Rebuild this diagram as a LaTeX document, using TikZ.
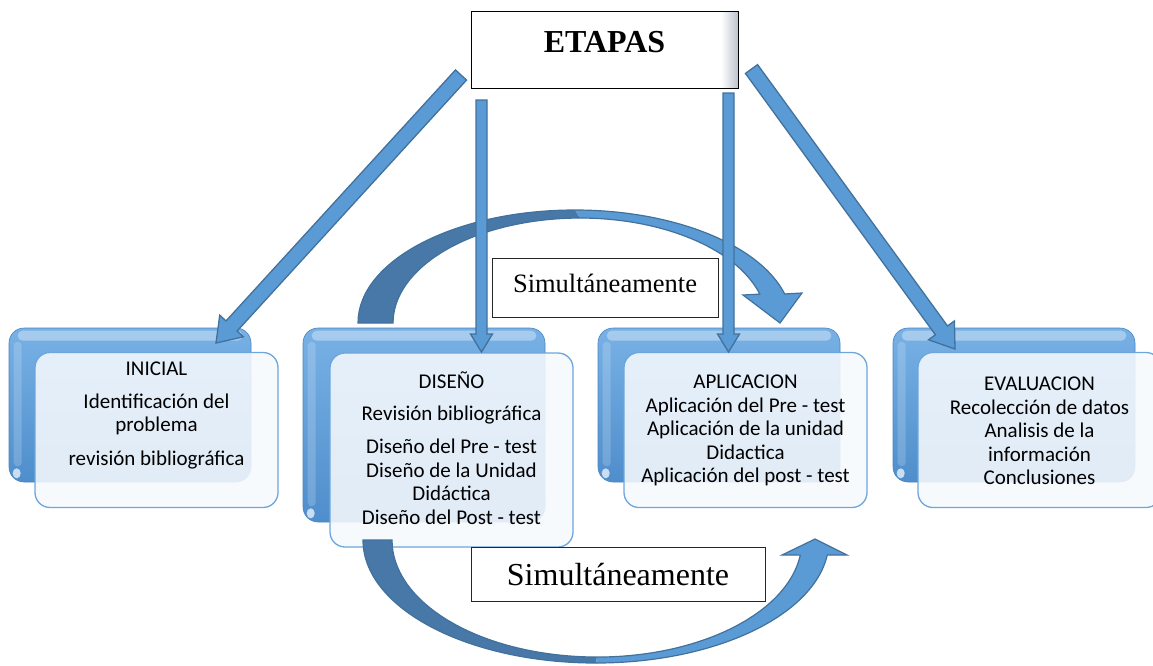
\documentclass[tikz,border=0pt]{standalone}
\usepackage{fontspec}
\setmainfont{Liberation Serif}
\newfontfamily\calibrifont{Carlito}
\usetikzlibrary{calc}

\definecolor{arrowfill}{HTML}{5B9BD5}
\definecolor{arrowline}{HTML}{41719C}
\definecolor{arcdark}{HTML}{4878A8}
\definecolor{backtop}{HTML}{78B1E5}
\definecolor{backbot}{HTML}{4F8ECC}
\definecolor{backedge}{HTML}{4A86C0}
\definecolor{frontline}{HTML}{6CA6DC}
\definecolor{frontfill}{HTML}{F6F9FD}
\definecolor{etapasedge}{HTML}{BCC3CE}

\pgfdeclarehorizontalshading{etapasfill}{100bp}{color(0bp)=(white); color(25bp)=(white); color(71.8bp)=(white); color(75bp)=(etapasedge); color(100bp)=(etapasedge)}

% block arrow: #1 tail point, #2 tip, #3 shaft width, #4 head width, #5 head length
\newcommand\etapasarrow[5]{%
  \draw[blockarrow] let \p1=(#1), \p2=(#2),
      \n1={atan2(\y2-\y1,\x2-\x1)},
      \n2={veclen(\x2-\x1,\y2-\y1)-#5}
    in ($(\p1)+(\n1+90:{#3/2})$) -- ($(\p1)+(\n1:\n2)+(\n1+90:{#3/2})$)
    -- ($(\p1)+(\n1:\n2)+(\n1+90:{#4/2})$) -- (\p2)
    -- ($(\p1)+(\n1:\n2)+(\n1-90:{#4/2})$) -- ($(\p1)+(\n1:\n2)+(\n1-90:{#3/2})$)
    -- ($(\p1)+(\n1-90:{#3/2})$) -- cycle;}

% glossy highlights on a blue back panel
\newcommand\boxgloss[1]{%
  \fill[white, opacity=0.35, rounded corners=5pt]
    ($(#1.north west)+(9,-3)$) rectangle ($(#1.north east)+(-9,-13)$);
  \fill[white, opacity=0.18, rounded corners=4pt]
    ($(#1.north west)+(5,-14)$) rectangle ($(#1.south west)+(13,16)$);
  \fill[white, opacity=0.7]
    ($(#1.south west)+(8,9)$) ellipse[x radius=4, y radius=5];}

\begin{document}
\begin{tikzpicture}[x=1pt, y=1pt,
  backbox/.style={rectangle, rounded corners=15pt, inner sep=0pt,
    minimum width=242pt, minimum height=154pt,
    top color=backtop, bottom color=backbot, draw=backedge, line width=0.6pt},
  frontbox/.style={rectangle, rounded corners=15pt, inner sep=0pt,
    minimum width=243pt, minimum height=155pt,
    draw=frontline, line width=1.3pt, fill=frontfill, fill opacity=0.88},
  boxtext/.style={font=\calibrifont\fontsize{21}{23.4}\selectfont,
    align=center, inner sep=0pt, anchor=base},
  blockarrow/.style={draw=arrowline, fill=arrowfill, line width=1.3pt, line join=miter},
  arcline/.style={draw=arrowline, line width=1.2pt, line join=miter},
  simbox/.style={rectangle, draw=black!85, line width=1pt, fill=white, inner sep=0pt}
]
\useasboundingbox (0,0) rectangle (1153,-665);

% upper curved arrow (DISEÑO towards APLICACION)
\fill[arcdark] (358,-323) arc[start angle=180, end angle=90, x radius=217, y radius=113]
  -- (580,-218) arc[start angle=90, end angle=180, x radius=187, y radius=105] -- cycle;
\fill[arrowfill] (575,-210) arc[start angle=90, end angle=14.9, x radius=217, y radius=113]
  -- (802,-293) -- (780,-323) -- (743,-295) -- (759.8,-294.1)
  arc[start angle=16, end angle=90, x radius=187, y radius=105] -- cycle;
\path[arcline] (358,-323) arc[start angle=180, end angle=14.9, x radius=217, y radius=113]
  -- (802,-293) -- (780,-323) -- (743,-295) -- (759.8,-294.1)
  arc[start angle=16, end angle=180, x radius=187, y radius=105] -- cycle;

% stage panels
\node[backbox] (b1) at (130,-405) {};
\node[backbox] (b2) at (424,-425) [minimum height=194pt] {};
\node[backbox] (b3) at (719,-405) {};
\node[backbox] (b4) at (1014,-405) {};
\boxgloss{b1}\boxgloss{b2}\boxgloss{b3}\boxgloss{b4}

\node[frontbox] (f1) at (156.5,-430) {};
\node[frontbox] (f2) at (451.5,-450) [minimum height=194pt] {};
\node[frontbox] (f3) at (745.5,-430) {};
\node[frontbox] (f4) at (1039.5,-430) {};

% stage texts (placed by the baseline of their last line)
\node[boxtext] (t1) at (156.5,-465) {INICIAL\\[9.5pt]Identificación del\\problema\\[10pt]revisión bibliográfica};
\node[boxtext] (t2) at (451.5,-524) {DISEÑO\\[9pt]Revisión bibliográfica\\[10pt]Diseño del Pre - test\\Diseño de la Unidad\\Didáctica\\Diseño del Post - test};
\node[boxtext] (t3) at (745.5,-482.5) {APLICACION\\Aplicación del Pre - test\\Aplicación de la unidad\\Didactica\\Aplicación del post - test};
\node[boxtext] (t4) at (1039.5,-484.5) {EVALUACION\\Recolección de datos\\Analisis de la\\información\\Conclusiones};

% title box
\node[draw=black, line width=1pt, shading=etapasfill, inner sep=0pt,
  minimum width=267pt, text height=41pt, text depth=36pt,
  font=\bfseries\fontsize{32}{32}\selectfont] (etapas) at (604.5,-49.5) {ETAPAS};

% arrows from the title to each stage
\coordinate (a1s) at (461,-75);    \coordinate (a1e) at (216,-343);
\coordinate (a2s) at (481.5,-100); \coordinate (a2e) at (481.5,-352);
\coordinate (a3s) at (728.5,-93);  \coordinate (a3e) at (728.5,-352);
\coordinate (a4s) at (751.5,-69);  \coordinate (a4e) at (955,-349);
\etapasarrow{a1s}{a1e}{15}{32}{23}
\etapasarrow{a2s}{a2e}{11}{22}{18}
\etapasarrow{a3s}{a3e}{11}{22}{18}
\etapasarrow{a4s}{a4e}{15}{32}{23}

% lower curved arrow (DISEÑO towards APLICACION)
\fill[arcdark] (363,-540) arc[start angle=180, end angle=270, x radius=233, y radius=123]
  -- (597,-657) arc[start angle=270, end angle=180, x radius=205, y radius=117] -- cycle;
\fill[arrowfill] (596,-663) arc[start angle=270, end angle=353, x radius=233, y radius=123]
  -- (847,-555) -- (815,-539) -- (782,-555) -- (800.3,-555.1)
  arc[start angle=352.6, end angle=270, x radius=205, y radius=117] -- cycle;
\path[arcline] (363,-540) arc[start angle=180, end angle=353, x radius=233, y radius=123]
  -- (847,-555) -- (815,-539) -- (782,-555) -- (800.3,-555.1)
  arc[start angle=352.6, end angle=180, x radius=205, y radius=117] -- cycle;

% labels of the simultaneous phases
\node[simbox, minimum width=226pt, text height=34pt, text depth=25pt,
  font=\fontsize{26.5}{26.5}\selectfont] (sim1) at (605,-287.5) {Simultáneamente};
\node[simbox, minimum width=294pt, text height=38pt, text depth=16pt,
  font=\fontsize{32}{32}\selectfont] (sim2) at (618,-574) {Simultáneamente};
\end{tikzpicture}
\end{document}
